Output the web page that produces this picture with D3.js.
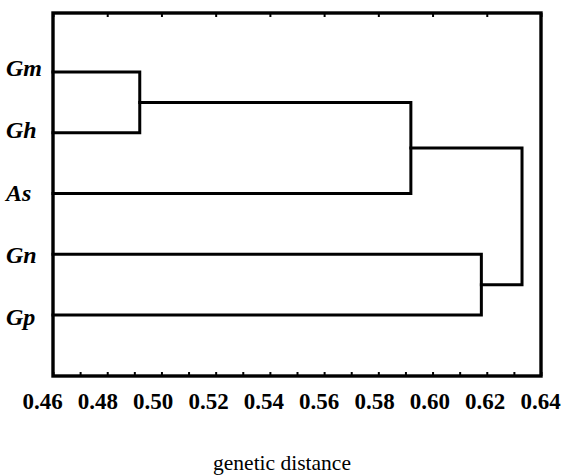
<!DOCTYPE html>
<html>
<head>
<meta charset="utf-8">
<script src="https://cdn.jsdelivr.net/npm/d3@7/dist/d3.min.js"></script>
<style>
  html, body { margin: 0; padding: 0; background: #fff; }
  svg { display: block; }
</style>
</head>
<body>
<svg id="chart" width="561" height="476"></svg>
<script>
// ---- data ----
const leaves = ["Gm", "Gh", "As", "Gn", "Gp"];
const clusterNames = ["c1", "c2", "c3", "c4"];
const mergeLeft = ["Gm", "c1", "Gn", "c2"];
const mergeRight = ["Gh", "As", "Gp", "c3"];
const mergeHeight = [0.492, 0.592, 0.618, 0.633];
const tickLabels = [0.46, 0.48, 0.50, 0.52, 0.54, 0.56, 0.58, 0.60, 0.62, 0.64];
const minorTicks = [0.46, 0.47, 0.48, 0.49, 0.50, 0.51, 0.52, 0.53, 0.54, 0.55,
                    0.56, 0.57, 0.58, 0.59, 0.60, 0.61, 0.62, 0.63, 0.64];
const axisTitle = "genetic distance";

// ---- layout ----
const frameL = 53, frameR = 541, frameT = 13, frameB = 376;
const svg = d3.select("#chart");

const x = d3.scaleLinear().domain([0.46, 0.64]).range([frameL, frameR]);
// tick labels in the reference sit on a slightly wider spread than the tick marks
const xLabel = d3.scaleLinear().domain([0.46, 0.64]).range([42, 540]);
const y = d3.scalePoint().domain(leaves).range([72, 315]);
const yLabel = d3.scalePoint().domain(leaves).range([76, 325]);

// node positions
const pos = {};
leaves.forEach(l => { pos[l] = { x: x(0.46), y: y(l) }; });

const g = svg.append("g")
  .attr("fill", "none")
  .attr("stroke", "#000")
  .attr("stroke-width", 3)
  .attr("stroke-linecap", "square");

clusterNames.forEach((c, i) => {
  const a = pos[mergeLeft[i]], b = pos[mergeRight[i]];
  const mx = x(mergeHeight[i]);
  const path = d3.path();
  path.moveTo(a.x, a.y);
  path.lineTo(mx, a.y);
  path.lineTo(mx, b.y);
  path.lineTo(b.x, b.y);
  g.append("path").attr("d", path.toString());
  pos[c] = { x: mx, y: (a.y + b.y) / 2 };
});

// ---- frame ----
svg.append("rect")
  .attr("x", frameL).attr("y", frameT)
  .attr("width", frameR - frameL).attr("height", frameB - frameT)
  .attr("fill", "none").attr("stroke", "#000").attr("stroke-width", 3.4);

// bottom minor ticks (inward)
const bAxis = svg.append("g")
  .attr("transform", `translate(0,${frameB})`)
  .call(d3.axisBottom(x).tickValues(minorTicks).tickSize(-4).tickFormat(""));
bAxis.select(".domain").remove();
bAxis.selectAll(".tick line").attr("stroke", "#000").attr("stroke-width", 2);

// top ticks every 0.02 (inward)
const tAxis = svg.append("g")
  .attr("transform", `translate(0,${frameT})`)
  .call(d3.axisTop(x).tickValues(tickLabels).tickSize(-4).tickFormat(""));
tAxis.select(".domain").remove();
tAxis.selectAll(".tick line").attr("stroke", "#000").attr("stroke-width", 2);

// tick labels
const lAxis = svg.append("g")
  .attr("transform", `translate(0,${frameB})`)
  .call(d3.axisBottom(xLabel).tickValues(tickLabels).tickSize(0).tickPadding(17)
    .tickFormat(d3.format(".2f")));
lAxis.select(".domain").remove();
lAxis.selectAll("text")
  .attr("fill", "#000")
  .style("font-family", "'Liberation Serif', 'Times New Roman', serif")
  .style("font-weight", "bold")
  .style("font-size", "23px");

// leaf labels
svg.append("g").selectAll("text")
  .data(leaves)
  .join("text")
  .attr("x", 6)
  .attr("y", d => yLabel(d))
  .attr("fill", "#000")
  .style("font-family", "'Liberation Serif', 'Times New Roman', serif")
  .style("font-weight", "bold")
  .style("font-style", "italic")
  .style("font-size", "24px")
  .text(d => d);

// axis title
svg.append("text")
  .attr("x", 282)
  .attr("y", 470)
  .attr("text-anchor", "middle")
  .attr("fill", "#000")
  .style("font-family", "'Liberation Serif', 'Times New Roman', serif")
  .style("font-size", "21.5px")
  .text(axisTitle);
</script>
</body>
</html>
